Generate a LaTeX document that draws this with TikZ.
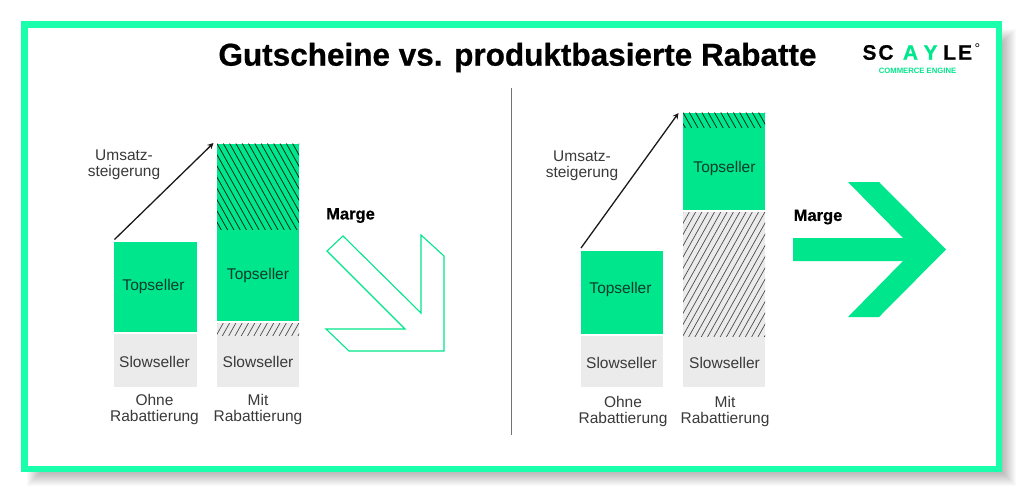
\documentclass[tikz,border=0pt]{standalone}
\usepackage{fontspec}
\setmainfont{Liberation Sans}
\newfontfamily\heavyfont[FakeBold=0.7]{Liberation Sans Bold}
\newfontfamily\logofont[FakeBold=0.5]{Liberation Sans Bold}
\usetikzlibrary{arrows.meta}
\definecolor{framegreen}{HTML}{19FFAB}
\definecolor{bargreen}{HTML}{00E68C}
\definecolor{slowgray}{HTML}{EBEBEB}
\definecolor{inkgray}{HTML}{3A3A3A}
\definecolor{inkdark}{HTML}{0B3B2A}
\tikzset{
  x=1pt,y=-1pt,
  body/.style={font=\fontsize{15.5}{16}\selectfont,text=inkgray,inner sep=0pt,align=center},
  ontop/.style={font=\fontsize{15.5}{16}\selectfont,text=inkdark,inner sep=0pt},
  hatchline/.style={line width=0.8pt,draw=black!80!bargreen},
  grayhatch/.style={line width=0.7pt,draw=black!70},
  growth/.style={-{Stealth[length=6pt,width=6pt]},line width=1.3pt,draw=black!90},
  mlabel/.style={font=\fontsize{16.5}{17}\heavyfont\selectfont,text=black,inner sep=0pt},
  logo/.style={font=\fontsize{21}{22}\logofont\selectfont,inner sep=0pt},
}
\newcommand{\hatchbar}[8]{%
  \fill[#6] (#2,#3) rectangle (#4,#5);
  \begin{scope}
    \clip (#2,#3) rectangle (#4,#5);
    \pgfmathsetmacro{\hh}{(#5-#3)*0.56}
    \foreach \k in {-30,...,30}{
      \pgfmathsetmacro{\xa}{#2+\k*6.3}
      \pgfmathsetmacro{\xb}{\xa+#8*\hh}
      \draw[#7] (\xa,#3) -- (\xb,#5);
    }
  \end{scope}
  \coordinate (#1) at (#2,#3);
}
\begin{document}
\begin{tikzpicture}
\useasboundingbox (0,0) rectangle (1024,493);
\fill[white] (0,0) rectangle (1024,493);
% frame shadow
\foreach \i in {0,...,13}{
  \fill[black,opacity=0.02] (27+\i,29+\i) rectangle (1016-\i,486-\i);
}
\fill[white] (21,21) rectangle (1002,472);
\draw[framegreen,line width=6.5pt] (24.25,24.25) rectangle (998.75,468.75);
% title
\node[inner sep=0pt,font=\fontsize{31.5}{34}\heavyfont\selectfont,text=black] (title) at (517.5,57.5) {Gutscheine vs. produktbasierte Rabatte};
% logo
\node[logo,text=black] (ls) at (869.5,52.5) {S};
\node[logo,text=black] (lc) at (886,52.5) {C};
\node[logo,text=bargreen] (la) at (910.5,52.5) {A};
\node[logo,text=bargreen] (ly) at (930.5,52.5) {Y};
\node[logo,text=black] (ll) at (949.5,52.5) {L};
\node[logo,text=black] (le) at (965,52.5) {E};
\node[inner sep=0pt,font=\fontsize{14}{14}\selectfont,text=black] (ld) at (977.5,48.5) {°};
\node[inner sep=0pt,font=\fontsize{7.7}{8}\selectfont\bfseries,text=bargreen] (lsub) at (917.5,71) {COMMERCE ENGINE};
% divider
\coordinate (dtop) at (511.5,88);
\coordinate (dbot) at (511.5,435);
\draw[line width=1pt,draw=black!55] (dtop) -- (dbot);

% left panel
\fill[bargreen] (114,242) rectangle (196.5,332);
\node[ontop] (t1) at (153.5,286.5) {Topseller};
\fill[slowgray] (114,334) rectangle (196.5,387);
\node[body] (s1) at (154.5,361.5) {Slowseller};
\node[body] (l1) at (154.5,409.5) {Ohne\\Rabattierung};
\hatchbar{h1}{217}{143.5}{299}{230}{bargreen}{hatchline}{1}
\fill[bargreen] (217,230) rectangle (299,321);
\node[ontop] (t2) at (258,275) {Topseller};
\hatchbar{h2}{217}{323}{299}{336}{slowgray}{grayhatch}{-1}
\fill[slowgray] (217,336) rectangle (299,387);
\node[body] (s2) at (258,361.5) {Slowseller};
\node[body] (l2) at (258,409.5) {Mit\\Rabattierung};
\node[body] (u1) at (124,164.5) {Umsatz-\\steigerung};
\coordinate (a1) at (114.5,239.5);
\coordinate (a2) at (213.5,143);
\draw[growth] (a1) -- (a2);
\node[mlabel] (m1) at (350.5,215.5) {Marge};
\draw[draw=bargreen,line width=1.1pt,line join=miter]
  (343,236) -- (421,313) -- (421,235) -- (444,256) -- (444,351) -- (349,351) -- (326,329) -- (405,329) -- (327,251) -- cycle;

% right panel
\fill[bargreen] (580.5,251) rectangle (663,334);
\node[ontop] (t3) at (620.5,289.5) {Topseller};
\fill[slowgray] (580.5,336) rectangle (663,387);
\node[body] (s3) at (621.5,363) {Slowseller};
\node[body] (l3) at (623,411) {Ohne\\Rabattierung};
\hatchbar{h3}{683}{112.5}{765}{128}{bargreen}{hatchline}{1}
\fill[bargreen] (683,128) rectangle (765,210);
\node[ontop] (t4) at (724.5,168.5) {Topseller};
\hatchbar{h4}{683}{212}{765}{337}{slowgray}{grayhatch}{-1}
\fill[slowgray] (683,337) rectangle (765,387);
\node[body] (s4) at (724.5,363) {Slowseller};
\node[body] (l4) at (725,411) {Mit\\Rabattierung};
\node[body] (u2) at (582,166) {Umsatz-\\steigerung};
\coordinate (b1) at (581,248);
\coordinate (b2) at (678.5,113);
\draw[growth] (b1) -- (b2);
\node[mlabel] (m2) at (818,217) {Marge};
\fill[bargreen] (793,238) -- (903,238) -- (848,182) -- (879,182) -- (946,249.5) -- (879,317) -- (848,317) -- (903,261) -- (793,261) -- cycle;
\end{tikzpicture}
\end{document}
